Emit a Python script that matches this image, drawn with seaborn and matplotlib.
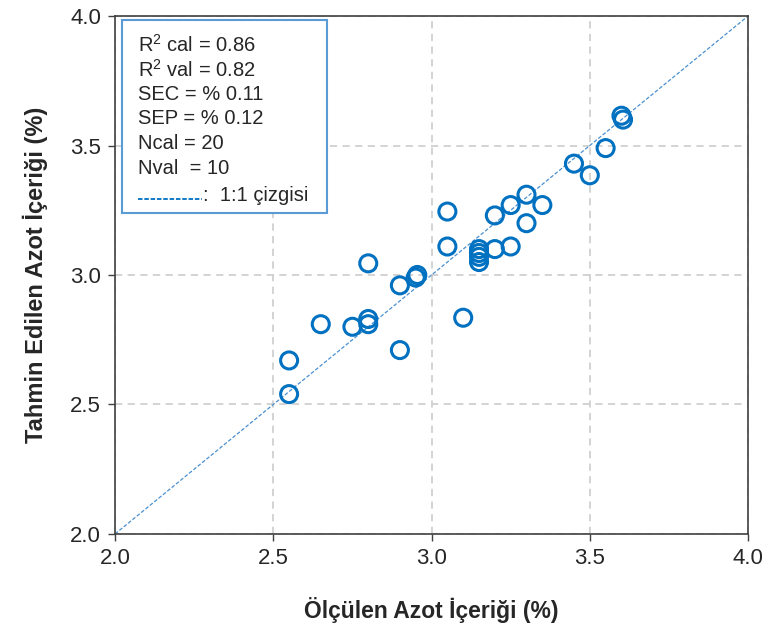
import matplotlib
matplotlib.use('Agg')
import matplotlib.pyplot as plt
import seaborn as sns
import pandas as pd
from matplotlib.patches import Rectangle

# ölçülen ve tahmin edilen azot değerleri (%)
olculen = [2.55, 2.55, 2.65, 2.75, 2.80, 2.80, 2.80, 2.90, 2.90, 2.95,
           2.955, 3.05, 3.05, 3.10, 3.15, 3.15, 3.15, 3.15, 3.20, 3.25,
           3.20, 3.25, 3.30, 3.30, 3.35, 3.45, 3.50, 3.55, 3.60, 3.605]
tahmin = [2.54, 2.67, 2.81, 2.80, 2.83, 2.81, 3.045, 2.71, 2.96, 2.99,
          3.00, 3.245, 3.11, 2.835, 3.10, 3.085, 3.07, 3.05, 3.10, 3.11,
          3.23, 3.27, 3.31, 3.20, 3.27, 3.43, 3.385, 3.49, 3.615, 3.60]

istatistik = ['R$^2$ cal = 0.86', 'R$^2$ val = 0.82', 'SEC = % 0.11',
              'SEP = % 0.12', 'Ncal = 20', 'Nval  = 10']

df = pd.DataFrame({'olculen': olculen, 'tahmin': tahmin})

sns.set_style('white')
plt.rcParams['font.family'] = ['Liberation Sans', 'DejaVu Sans']
plt.rcParams['mathtext.fontset'] = 'custom'
plt.rcParams['mathtext.rm'] = 'Liberation Sans'

fig = plt.figure(figsize=(7.72, 6.41), dpi=100)
ax = fig.add_axes([0.149, 0.167, 0.820, 0.808])

mavi = '#0070C0'
acik_mavi = '#4A90D0'

# 1:1 çizgisi
ax.plot([2, 4], [2, 4], linestyle=(0, (3, 1.5)), color=acik_mavi, lw=0.9, zorder=2)

sns.scatterplot(data=df, x='olculen', y='tahmin', ax=ax, marker='o',
                facecolor='none', edgecolor=mavi, linewidth=2.2, s=150, zorder=3)

ax.set_xlim(2.0, 4.0)
ax.set_ylim(2.0, 4.0)
ax.set_xticks([2.0, 2.5, 3.0, 3.5, 4.0])
ax.set_yticks([2.0, 2.5, 3.0, 3.5, 4.0])
ax.set_xticklabels(['2.0', '2.5', '3.0', '3.5', '4.0'])
ax.set_yticklabels(['2.0', '2.5', '3.0', '3.5', '4.0'])
ax.tick_params(axis='both', labelsize=16, direction='out', length=5,
               width=1, color='#404040', bottom=True, left=True, pad=5)
ax.grid(True, linestyle=(0, (4, 3)), color='#d0d0d0', lw=1.3)
for sp in ax.spines.values():
    sp.set_color('#404040')
    sp.set_linewidth(1.2)

ax.set_xlabel('Ölçülen Azot İçeriği (%)', fontsize=16.5, fontweight='bold', labelpad=20)
ax.set_ylabel('Tahmin Edilen Azot İçeriği (%)', fontsize=17, fontweight='bold', labelpad=16)

# istatistik kutusu
kutu = Rectangle((0.011, 0.620), 0.324, 0.372, transform=ax.transAxes,
                 facecolor='white', edgecolor='#5B9BD5', lw=1.5, zorder=4)
ax.add_patch(kutu)
y0 = 0.944
for i, satir in enumerate(istatistik):
    ax.text(0.036, y0 - i * 0.0475, satir, transform=ax.transAxes,
            fontsize=14.5, va='center', ha='left', zorder=5)
yson = y0 - 6 * 0.0475 - 0.006
ax.plot([0.036, 0.138], [yson - 0.006, yson - 0.006], transform=ax.transAxes,
        linestyle=(0, (2.5, 1)), color=mavi, lw=1.3, zorder=5)
ax.text(0.139, yson, ':  1:1 çizgisi', transform=ax.transAxes,
        fontsize=14.5, va='center', ha='left', zorder=5)

fig.savefig('out.png', dpi=100)
